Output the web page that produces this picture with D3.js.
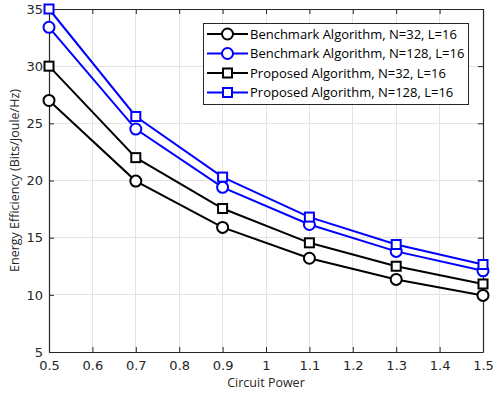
<!DOCTYPE html>
<html>
<head>
<meta charset="utf-8">
<script src="https://cdn.jsdelivr.net/npm/d3@7"></script>
<style>
  html, body { margin: 0; padding: 0; background: #fff; }
  svg { display: block; }
</style>
</head>
<body>
<svg id="chart" width="496" height="395"></svg>
<script>
// Circuit power values on the x axis
const circuitPower = [0.5, 0.7, 0.9, 1.1, 1.3, 1.5];

// Energy efficiency (Bits/Joule/Hz) for each algorithm configuration
const benchmarkN32  = [27.0, 19.95, 15.9, 13.2, 11.35, 9.95];
const benchmarkN128 = [33.4, 24.5, 19.4, 16.15, 13.8, 12.1];
const proposedN32   = [30.0, 22.0, 17.55, 14.55, 12.5, 10.95];
const proposedN128  = [35.0, 25.6, 20.3, 16.8, 14.4, 12.65];

const seriesNames = [
  "Benchmark Algorithm, N=32, L=16",
  "Benchmark Algorithm, N=128, L=16",
  "Proposed Algorithm, N=32, L=16",
  "Proposed Algorithm, N=128, L=16"
];
const seriesValues = [benchmarkN32, benchmarkN128, proposedN32, proposedN128];
const seriesColors = ["#000000", "#0000ff", "#000000", "#0000ff"];
const seriesMarkers = ["circle", "circle", "square", "square"];

const xTicks = [0.5, 0.6, 0.7, 0.8, 0.9, 1.0, 1.1, 1.2, 1.3, 1.4, 1.5];
const yTicks = [5, 10, 15, 20, 25, 30, 35];

const svg = d3.select("#chart");
const plot = { left: 49, right: 483, top: 9, bottom: 352 };

const x = d3.scaleLinear().domain([0.5, 1.5]).range([plot.left, plot.right]);
const y = d3.scaleLinear().domain([5, 35]).range([plot.bottom, plot.top]);

const axisColor = "#262626";
const tickFont = "'DejaVu Sans', sans-serif";
const labelFont = "'Open Sans', sans-serif";

// Grid lines
const grid = svg.append("g");
grid.selectAll("line.gx").data(xTicks).join("line")
  .attr("x1", d => x(d)).attr("x2", d => x(d))
  .attr("y1", plot.top).attr("y2", plot.bottom)
  .attr("stroke", "#e3e3e3").attr("stroke-width", 1).attr("shape-rendering", "crispEdges");
grid.selectAll("line.gy").data(yTicks).join("line")
  .attr("x1", plot.left).attr("x2", plot.right)
  .attr("y1", d => y(d)).attr("y2", d => y(d))
  .attr("stroke", "#e3e3e3").attr("stroke-width", 1).attr("shape-rendering", "crispEdges");

// Axes (bottom/left with labels, top/right with inward ticks only)
const fmtX = d => d3.format("")(+d.toFixed(1));
const bottomAxis = d3.axisBottom(x).tickValues(xTicks).tickFormat(fmtX).tickSizeInner(-5).tickSizeOuter(0).tickPadding(9);
const leftAxis = d3.axisLeft(y).tickValues(yTicks).tickSizeInner(-5).tickSizeOuter(0).tickPadding(6);
const topAxis = d3.axisTop(x).tickValues(xTicks).tickFormat("").tickSizeInner(-5).tickSizeOuter(0);
const rightAxis = d3.axisRight(y).tickValues(yTicks).tickFormat("").tickSizeInner(-5).tickSizeOuter(0);

function styleAxis(g) {
  g.select(".domain").attr("stroke", axisColor).attr("stroke-width", 1.2);
  g.selectAll(".tick line").attr("stroke", axisColor);
  g.selectAll(".tick text").attr("fill", axisColor).attr("font-family", tickFont).attr("font-size", 13);
}

svg.append("g").attr("transform", `translate(0,${plot.bottom})`).call(bottomAxis).call(styleAxis);
svg.append("g").attr("transform", `translate(${plot.left},0)`).call(leftAxis).call(styleAxis);
svg.append("g").attr("transform", `translate(0,${plot.top})`).call(topAxis).call(styleAxis);
svg.append("g").attr("transform", `translate(${plot.right},0)`).call(rightAxis).call(styleAxis);

// Axis titles
svg.append("text")
  .attr("x", (plot.left + plot.right) / 2).attr("y", 387)
  .attr("text-anchor", "middle")
  .attr("font-family", labelFont).attr("font-size", 12.5).attr("fill", axisColor)
  .text("Circuit Power");
svg.append("text")
  .attr("transform", `translate(19,${(plot.top + plot.bottom) / 2}) rotate(-90)`)
  .attr("text-anchor", "middle")
  .attr("font-family", labelFont).attr("font-size", 12.5).attr("fill", axisColor)
  .text("Energy Efficiency (Bits/Joule/Hz)");

// Marker drawing helper
function drawMarker(sel, type, color) {
  if (type === "circle") {
    sel.append("circle").attr("r", 5.5)
      .attr("fill", "#fff").attr("stroke", color).attr("stroke-width", 2);
  } else {
    sel.append("rect").attr("x", -4.5).attr("y", -4.5).attr("width", 9).attr("height", 9)
      .attr("fill", "#fff").attr("stroke", color).attr("stroke-width", 2);
  }
}

// Series lines and markers
const line = d3.line().x((d, i) => x(circuitPower[i])).y(d => y(d));
seriesValues.forEach((vals, s) => {
  const g = svg.append("g");
  g.append("path").datum(vals)
    .attr("d", line)
    .attr("fill", "none").attr("stroke", seriesColors[s]).attr("stroke-width", 2);
  vals.forEach((v, i) => {
    const m = g.append("g").attr("transform", `translate(${x(circuitPower[i])},${y(v)})`);
    drawMarker(m, seriesMarkers[s], seriesColors[s]);
  });
});

// Legend
const legend = { x: 203, y: 23, w: 265, h: 81, row: 19.5 };
const lg = svg.append("g");
lg.append("rect")
  .attr("x", legend.x + 0.5).attr("y", legend.y + 0.5)
  .attr("width", legend.w).attr("height", legend.h)
  .attr("fill", "#fff").attr("stroke", axisColor).attr("stroke-width", 1);
seriesNames.forEach((name, s) => {
  const cy = legend.y + 11 + s * legend.row;
  const row = lg.append("g");
  row.append("line")
    .attr("x1", legend.x + 4).attr("x2", legend.x + 45)
    .attr("y1", cy).attr("y2", cy)
    .attr("stroke", seriesColors[s]).attr("stroke-width", 2);
  drawMarker(row.append("g").attr("transform", `translate(${legend.x + 24.5},${cy})`), seriesMarkers[s], seriesColors[s]);
  row.append("text")
    .attr("x", legend.x + 47).attr("y", cy).attr("dy", "0.35em")
    .attr("font-family", labelFont).attr("font-size", 13).attr("fill", "#000")
    .text(name);
});
</script>
</body>
</html>
